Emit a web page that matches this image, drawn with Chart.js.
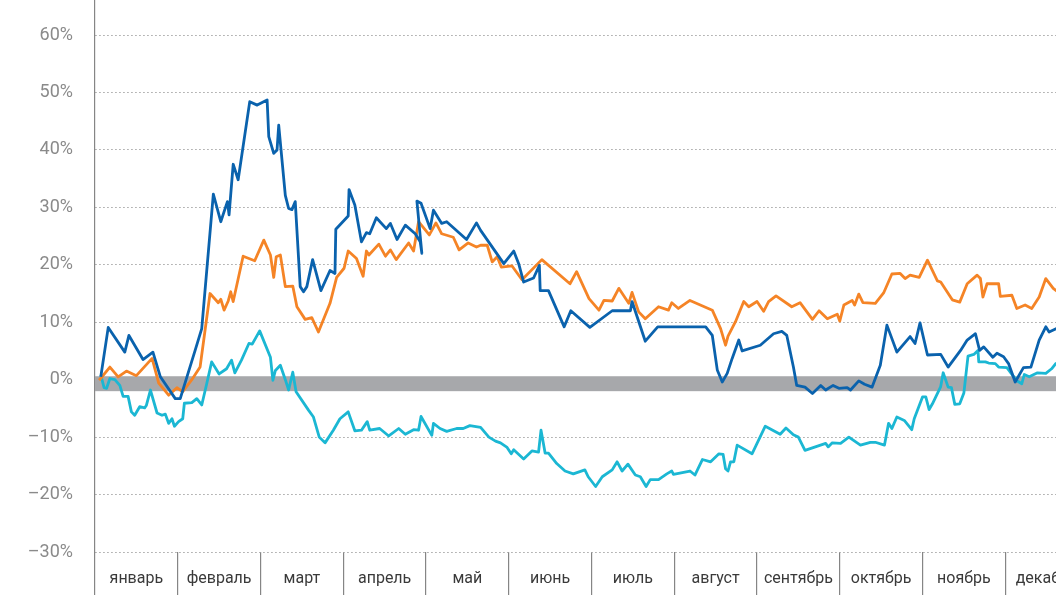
<!DOCTYPE html>
<html lang="ru">
<head>
<meta charset="utf-8">
<title>Динамика индексов</title>
<script src="https://cdn.jsdelivr.net/npm/chart.js@4.4.1/dist/chart.umd.min.js"></script>
<style>
  html, body { margin: 0; padding: 0; background: #fff; overflow: hidden; }
  #chart { display: block; }
</style>
</head>
<body>
<canvas id="chart" width="1088" height="595"></canvas>
<script>
// months on the x axis, values are [month position, % change]
var months = ['январь', 'февраль', 'март', 'апрель', 'май', 'июнь',
  'июль', 'август', 'сентябрь', 'октябрь', 'ноябрь', 'декабрь'];

var blueSeries = [
  [0.07,0.5],[0.16,9.1],[0.36,4.8],[0.41,7.7],[0.58,3.5],[0.70,4.8],[0.79,0.5],[0.97,-3.3],[1.03,-3.3],
  [1.21,5.1],[1.29,8.9],[1.43,32.3],[1.52,27.5],[1.60,31.0],[1.62,28.7],[1.67,37.5],[1.73,34.8],[1.87,48.4],
  [1.96,47.8],[2.08,48.7],[2.10,42.3],[2.16,39.4],[2.20,40.0],[2.22,44.3],[2.30,32.1],[2.34,29.8],[2.38,29.6],
  [2.42,31.0],[2.48,16.2],[2.52,15.3],[2.56,16.2],[2.63,20.9],[2.73,15.5],[2.84,19.0],[2.90,18.5],[2.91,26.2],
  [3.06,28.5],[3.07,33.1],[3.14,30.4],[3.22,24.0],[3.28,25.6],[3.32,25.4],[3.40,28.2],[3.52,26.3],[3.57,27.2],
  [3.65,24.4],[3.75,26.9],[3.87,25.4],[3.93,24.0],[3.95,22.0],[3.89,31.1],[3.94,30.7],[4.05,26.3],[4.09,29.5],
  [4.19,27.2],[4.25,27.5],[4.49,24.4],[4.61,27.3],[4.66,26.0],[4.94,20.2],[5.06,22.4],[5.12,20.2],[5.18,17.0],
  [5.30,17.7],[5.37,19.9],[5.38,15.5],[5.48,15.5],[5.67,9.2],[5.75,12.0],[5.98,9.1],[6.25,12.0],[6.47,12.0],
  [6.49,13.6],[6.65,6.7],[6.80,9.2],[7.38,9.2],[7.46,7.7],[7.52,1.7],[7.58,-0.4],[7.64,1.1],[7.70,3.7],
  [7.78,6.9],[7.82,5.0],[8.04,6.0],[8.20,8.0],[8.30,8.4],[8.36,7.7],[8.44,2.2],[8.48,-1.0],[8.58,-1.3],
  [8.67,-2.4],[8.77,-1.0],[8.83,-1.8],[8.92,-1.0],[8.99,-1.5],[9.09,-1.4],[9.13,-1.8],[9.23,-0.2],[9.30,-0.8],
  [9.39,-1.3],[9.49,2.5],[9.57,9.5],[9.69,4.8],[9.85,7.5],[9.91,6.3],[9.97,9.9],[10.06,4.3],[10.22,4.4],
  [10.31,2.2],[10.46,5.1],[10.54,6.9],[10.64,8.0],[10.69,5.1],[10.74,5.7],[10.85,3.9],[10.90,4.6],[10.98,4.0],
  [11.04,2.8],[11.12,-0.4],[11.22,2.1],[11.31,2.2],[11.41,6.9],[11.49,9.2],[11.53,8.3],[11.62,8.9],[11.68,9.2]
];

var orangeSeries = [
  [0.05,-0.1],[0.18,2.2],[0.28,0.5],[0.38,1.5],[0.50,0.7],[0.69,3.7],[0.77,-0.6],[0.89,-2.7],[0.99,-1.4],
  [1.06,-2.1],[1.17,0.0],[1.27,2.2],[1.39,15.0],[1.49,13.4],[1.52,14.0],[1.56,12.1],[1.61,13.7],[1.64,15.3],
  [1.67,13.6],[1.79,21.5],[1.93,20.7],[2.04,24.3],[2.12,21.7],[2.16,17.8],[2.19,21.4],[2.24,21.7],[2.30,16.2],
  [2.39,16.3],[2.44,12.7],[2.54,10.5],[2.62,10.8],[2.70,8.3],[2.84,13.3],[2.92,17.8],[3.01,19.4],[3.06,22.4],
  [3.16,21.1],[3.24,18.0],[3.28,22.4],[3.31,21.7],[3.43,23.6],[3.51,21.5],[3.57,22.6],[3.64,20.9],[3.79,23.8],
  [3.85,22.4],[3.91,27.5],[4.04,25.2],[4.12,27.3],[4.19,25.4],[4.33,24.8],[4.40,22.6],[4.51,23.8],[4.61,23.1],
  [4.66,23.4],[4.74,23.4],[4.80,20.5],[4.86,21.4],[4.91,19.6],[5.04,19.8],[5.16,17.4],[5.40,20.9],[5.74,16.7],
  [5.82,18.8],[5.97,14.1],[6.09,12.1],[6.15,13.8],[6.25,13.7],[6.33,15.9],[6.45,13.3],[6.49,15.2],[6.57,11.8],
  [6.65,10.6],[6.81,12.7],[6.93,12.1],[6.97,13.4],[7.05,12.4],[7.19,13.8],[7.46,12.1],[7.56,8.9],[7.62,6.0],
  [7.65,7.6],[7.74,10.1],[7.84,13.6],[7.90,12.7],[8.00,13.6],[8.08,11.9],[8.14,13.6],[8.23,14.6],[8.42,12.7],
  [8.52,13.4],[8.67,10.5],[8.75,12.0],[8.85,10.6],[8.97,11.4],[9.00,10.2],[9.05,13.0],[9.15,13.8],[9.18,13.0],
  [9.23,14.9],[9.28,13.4],[9.43,13.3],[9.53,15.1],[9.63,18.4],[9.73,18.5],[9.79,17.6],[9.85,18.2],[9.96,17.8],
  [10.06,20.8],[10.18,17.2],[10.22,17.0],[10.36,13.9],[10.45,13.5],[10.54,16.7],[10.66,18.2],[10.70,17.6],
  [10.73,14.4],[10.78,16.7],[10.92,16.7],[10.94,14.5],[11.08,14.7],[11.14,12.4],[11.24,13.0],[11.32,12.4],
  [11.41,14.4],[11.49,17.6],[11.58,15.9],[11.66,15.0]
];

var cyanSeries = [
  [0.07,0.8],[0.11,-1.4],[0.14,-1.5],[0.18,0.2],[0.24,0.0],[0.30,-1.0],[0.34,-2.9],[0.40,-2.9],[0.44,-5.6],
  [0.48,-6.2],[0.54,-4.7],[0.60,-4.9],[0.62,-4.5],[0.67,-1.8],[0.75,-5.8],[0.81,-6.2],[0.85,-6.0],[0.89,-7.6],
  [0.93,-6.8],[0.96,-8.1],[1.01,-7.3],[1.06,-6.8],[1.08,-4.1],[1.17,-4.0],[1.23,-3.3],[1.29,-4.4],[1.35,-0.7],
  [1.41,3.1],[1.50,1.0],[1.59,1.9],[1.65,3.4],[1.69,1.2],[1.77,3.4],[1.86,6.3],[1.90,6.2],[1.99,8.5],
  [2.12,3.9],[2.15,-0.1],[2.18,1.6],[2.24,2.5],[2.30,0.0],[2.34,-1.8],[2.39,1.3],[2.43,-2.1],[2.58,-5.3],
  [2.64,-6.5],[2.71,-10.0],[2.78,-11.0],[2.88,-8.8],[2.96,-6.8],[3.06,-5.6],[3.14,-8.9],[3.22,-8.8],[3.29,-7.3],
  [3.32,-8.8],[3.44,-8.5],[3.55,-9.8],[3.67,-8.5],[3.75,-9.5],[3.85,-8.7],[3.91,-8.8],[3.94,-6.4],[4.07,-9.7],
  [4.09,-7.6],[4.17,-8.5],[4.25,-9.0],[4.37,-8.5],[4.45,-8.5],[4.53,-8.0],[4.66,-8.3],[4.76,-10.0],[4.84,-10.7],
  [4.90,-11.0],[4.98,-11.8],[5.03,-12.9],[5.06,-12.2],[5.18,-13.8],[5.28,-12.4],[5.36,-12.6],[5.39,-8.8],
  [5.44,-12.8],[5.48,-12.8],[5.58,-14.6],[5.68,-15.9],[5.78,-16.4],[5.92,-15.7],[5.96,-16.9],[6.05,-18.6],
  [6.13,-16.9],[6.25,-15.7],[6.31,-14.3],[6.37,-15.9],[6.44,-14.7],[6.53,-16.6],[6.59,-16.9],[6.66,-18.6],
  [6.71,-17.4],[6.81,-17.4],[6.91,-16.4],[6.97,-15.9],[6.99,-16.5],[7.19,-15.9],[7.25,-16.6],[7.34,-13.9],
  [7.44,-14.3],[7.54,-12.9],[7.59,-13.0],[7.62,-15.5],[7.65,-15.9],[7.68,-14.3],[7.72,-14.3],[7.76,-11.4],
  [7.94,-12.9],[8.10,-8.1],[8.28,-9.5],[8.35,-8.4],[8.44,-9.6],[8.50,-10.0],[8.58,-12.3],[8.83,-11.1],
  [8.86,-11.7],[8.91,-11.0],[9.01,-11.1],[9.11,-10.0],[9.25,-11.4],[9.37,-10.9],[9.43,-10.9],[9.54,-11.4],
  [9.59,-7.6],[9.63,-8.5],[9.69,-6.5],[9.78,-7.1],[9.87,-8.7],[9.90,-6.8],[10.00,-3.0],[10.04,-3.0],
  [10.08,-5.2],[10.12,-4.2],[10.22,-1.2],[10.25,1.2],[10.31,-1.3],[10.35,-1.4],[10.39,-4.3],[10.45,-4.2],
  [10.50,-2.3],[10.55,4.1],[10.62,4.4],[10.67,5.1],[10.68,3.1],[10.76,3.1],[10.80,2.9],[10.88,2.8],
  [10.92,2.2],[11.02,2.1],[11.14,-0.2],[11.20,-0.7],[11.23,0.9],[11.29,0.5],[11.39,1.2],[11.49,1.1],
  [11.56,1.9],[11.61,2.8],[11.66,3.0]
];

// grey band around zero, in %
var bandTop = 0.6;
var bandBottom = -2.0;

var yMin = -30, yMax = 66.1, yStep = 10;

function toPoints(arr) {
  return arr.map(function (p) { return { x: p[0], y: p[1] }; });
}

function fmtPct(v) {
  return (v < 0 ? '\u2013' + Math.abs(v) : String(v)) + '%';
}

var zeroBand = {
  id: 'zeroBand',
  beforeDatasetsDraw: function (chart) {
    var ctx = chart.ctx, a = chart.chartArea, y = chart.scales.y;
    var top = y.getPixelForValue(bandTop), bottom = y.getPixelForValue(bandBottom);
    ctx.save();
    ctx.fillStyle = '#a7a8ab';
    ctx.fillRect(a.left, top, a.right - a.left, bottom - top);
    ctx.restore();
  }
};

function lineSet(data, color) {
  return {
    data: toPoints(data),
    borderColor: color,
    borderWidth: 2.8,
    pointRadius: 0,
    tension: 0,
    fill: false,
    borderJoinStyle: 'round',
    xAxisID: 'x',
    yAxisID: 'y'
  };
}

var ctx = document.getElementById('chart');

new Chart(ctx, {
  type: 'line',
  data: {
    datasets: [
      lineSet(blueSeries, '#0a62ad'),
      lineSet(orangeSeries, '#f58426'),
      lineSet(cyanSeries, '#1bb7d3')
    ]
  },
  options: {
    responsive: false,
    animation: false,
    layout: { padding: 0 },
    plugins: { legend: { display: false }, tooltip: { enabled: false } },
    scales: {
      x: { type: 'linear', min: 0, max: 12, display: false },
      months: {
        type: 'category',
        labels: months,
        position: 'bottom',
        offset: true,
        border: { display: false },
        grid: { offset: true, drawOnChartArea: false, drawTicks: true, tickLength: 43, color: '#858585', lineWidth: 1.2 },
        ticks: {
          autoSkip: false, maxRotation: 0, padding: -26,
          color: '#3a3a3a',
          font: { family: 'Roboto', size: 16 }
        },
        afterFit: function (s) { s.height = 43; s.paddingLeft = 0; s.paddingRight = 0; }
      },
      y: {
        min: yMin, max: yMax,
        // dash applies to the grid lines, the axis line itself stays solid
        border: { display: true, color: '#858585', width: 1.2, dash: [1.5, 2.5] },
        grid: { drawTicks: false, color: '#a3a3a3', lineWidth: 1 },
        ticks: {
          stepSize: yStep, includeBounds: false, padding: 22,
          color: '#8a8a8a',
          font: { family: 'Roboto', size: 18 },
          callback: function (v) { return fmtPct(v); }
        },
        afterFit: function (s) { s.width = 95; s.paddingTop = 0; s.paddingBottom = 0; }
      }
    }
  },
  plugins: [zeroBand]
});
</script>
</body>
</html>
